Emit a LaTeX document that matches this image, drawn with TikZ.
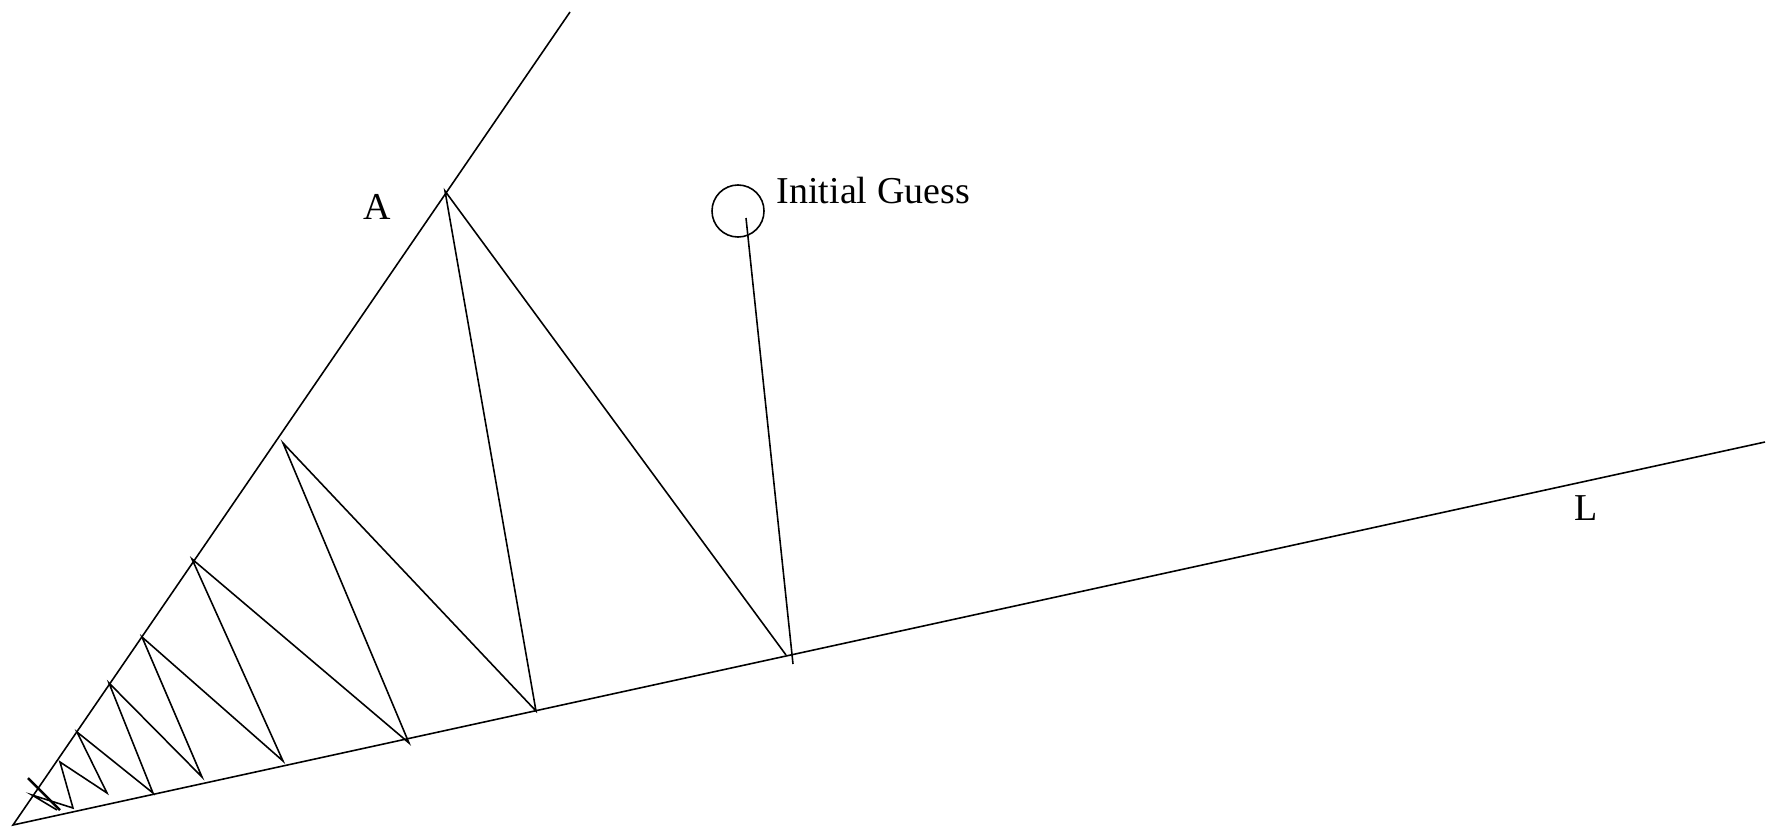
\documentclass[tikz,border=0pt]{standalone}
\usepackage{fontspec}
\setmainfont{Liberation Serif}
\usetikzlibrary{positioning}

\begin{document}
\begin{tikzpicture}[x=0.01cm, y=-0.01cm, line width=0.45pt,
  lbl/.style={inner sep=0pt, anchor=base west, font=\fontsize{10.8}{13}\selectfont}]
  \useasboundingbox (0,0) rectangle (1776,830);

  \coordinate (apex) at (13,825);
  \coordinate (aend) at (570,12);
  \coordinate (lend) at (1765,442);
  \draw (aend) -- (apex) -- (lend);

  \node[draw, circle, minimum size=0.52cm, inner sep=0pt] (guess) at (738,211) {};
  \coordinate (g0) at (746,218);
  \coordinate (g1) at (793,664);
  \draw (g0) -- (g1);

  \foreach \n/\x/\y in {p1/786/655, q1/445/191, p2/536/711, q2/283/443,
      p3/409/743, q3/192/559, p4/283/761, q4/142/637, p5/202/777,
      q5/109/683, p6/153/793, q6/77/732, p7/107/793, q7/60/762,
      p8/73/808, q8/32/795, p9/57/810, t0/28/778, t1/60/810}
    \coordinate (\n) at (\x,\y);
  \draw (p1) -- (q1) -- (p2) -- (q2) -- (p3) -- (q3) -- (p4) -- (q4)
    -- (p5) -- (q5) -- (p6) -- (q6) -- (p7) -- (q7) -- (p8) -- (q8) -- (p9);
  \draw[line width=0.7pt] (t0) -- (t1);

  \node[lbl] (guesslbl) at (776,203) {Initial Guess};
  \node[lbl] (alab) at (363,219) {A};
  \node[lbl] (llab) at (1574,520) {L};
\end{tikzpicture}
\end{document}
